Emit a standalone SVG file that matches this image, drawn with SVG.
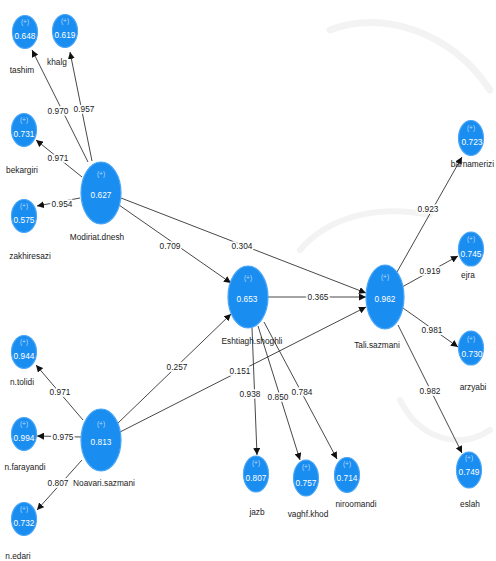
<svg xmlns="http://www.w3.org/2000/svg" width="496" height="561" viewBox="0 0 496 561">
<style>
.n{fill:#1a8df0;stroke:#4aa6f7;stroke-width:1.2}
.p{font-family:"Liberation Sans",Arial,sans-serif;font-size:6.5px;fill:#b9dcff;text-anchor:middle}
.v{font-family:"Liberation Sans",Arial,sans-serif;font-size:8.3px;fill:#ffffff;text-anchor:middle}
.l{font-family:"Liberation Sans",Arial,sans-serif;font-size:8.3px;fill:#222;text-anchor:middle}
.le{font-family:"Liberation Sans",Arial,sans-serif;font-size:8.3px;fill:#222;text-anchor:end}
.e{stroke:#333;stroke-width:0.9;fill:none;marker-end:url(#ah)}
.w{font-family:"Liberation Sans",Arial,sans-serif;font-size:8.3px;fill:#222;text-anchor:middle;stroke:#fff;stroke-width:3.5;paint-order:stroke;stroke-linejoin:round}
.wm{fill:none;stroke:#f3f3f3;stroke-linecap:round}
</style>
<defs>
<marker id="ah" viewBox="0 0 10 10" refX="10" refY="5" markerWidth="7" markerHeight="7" markerUnits="userSpaceOnUse" orient="auto">
<path d="M0,0 L10,5 L0,10 z" fill="#111"/>
</marker>
</defs>
<rect width="496" height="561" fill="#ffffff"/>
<g id="watermark">
<path class="wm" stroke-width="7" d="M330,30 C380,10 450,30 490,90"/>
<path class="wm" stroke-width="6" d="M300,250 C330,215 380,205 430,215"/>
<path class="wm" stroke-width="6" d="M400,400 C420,440 460,450 490,430"/>
</g>
<g id="connectors">
<line class="e" x1="88" y1="162" x2="32" y2="50"/>
<line class="e" x1="92" y1="161" x2="70" y2="52"/>
<line class="e" x1="82" y1="177" x2="36" y2="140"/>
<line class="e" x1="80" y1="198" x2="37" y2="206"/>
<line class="e" x1="119" y1="205" x2="231" y2="283"/>
<line class="e" x1="121" y1="198" x2="366" y2="293"/>
<line class="e" x1="268" y1="297" x2="366" y2="297"/>
<line class="e" x1="117" y1="424" x2="231" y2="314"/>
<line class="e" x1="120" y1="432" x2="366" y2="307"/>
<line class="e" x1="83" y1="420" x2="36" y2="365"/>
<line class="e" x1="81" y1="437" x2="37" y2="436"/>
<line class="e" x1="82" y1="460" x2="37" y2="510"/>
<line class="e" x1="252" y1="328" x2="257" y2="455"/>
<line class="e" x1="258" y1="326" x2="300" y2="460"/>
<line class="e" x1="264" y1="322" x2="337" y2="459"/>
<line class="e" x1="397" y1="272" x2="462" y2="157"/>
<line class="e" x1="402" y1="287" x2="458" y2="256"/>
<line class="e" x1="403" y1="308" x2="458" y2="347"/>
<line class="e" x1="398" y1="325" x2="462" y2="453"/>
<text class="w" x="58" y="114">0.970</text>
<text class="w" x="84" y="112">0.957</text>
<text class="w" x="58" y="161">0.971</text>
<text class="w" x="62" y="207">0.954</text>
<text class="w" x="170" y="249">0.709</text>
<text class="w" x="242" y="249">0.304</text>
<text class="w" x="318" y="300">0.365</text>
<text class="w" x="177" y="370">0.257</text>
<text class="w" x="240" y="374">0.151</text>
<text class="w" x="60" y="395">0.971</text>
<text class="w" x="63" y="440">0.975</text>
<text class="w" x="58" y="486">0.807</text>
<text class="w" x="250" y="397">0.938</text>
<text class="w" x="278" y="400">0.850</text>
<text class="w" x="302" y="395">0.784</text>
<text class="w" x="428" y="212">0.923</text>
<text class="w" x="430" y="274">0.919</text>
<text class="w" x="432" y="333">0.981</text>
<text class="w" x="430" y="394">0.982</text>
</g>
<g id="Modiriat.dnesh"><ellipse class="n" cx="101" cy="193" rx="20" ry="31"/><text class="p" x="101" y="176">(+)</text><text class="v" x="101" y="198">0.627</text><text class="l" x="97" y="240">Modiriat.dnesh</text></g>
<g id="Eshtiagh.shoghli"><ellipse class="n" cx="248" cy="297" rx="20" ry="31"/><text class="p" x="248" y="280">(+)</text><text class="v" x="247" y="302">0.653</text><text class="l" x="252" y="344">Eshtiagh.shoghli</text></g>
<g id="Tali.sazmani"><ellipse class="n" cx="385" cy="297" rx="19" ry="32"/><text class="p" x="385" y="279">(+)</text><text class="v" x="385" y="302">0.962</text><text class="l" x="377" y="348">Tali.sazmani</text></g>
<g id="Noavari.sazmani"><ellipse class="n" cx="101" cy="440" rx="20" ry="31"/><text class="p" x="101" y="426">(+)</text><text class="v" x="101" y="445">0.813</text><text class="l" x="104" y="486">Noavari.sazmani</text></g>
<g id="tashim"><ellipse class="n" cx="25" cy="32" rx="12.5" ry="16.5"/><text class="p" x="25" y="24">(+)</text><text class="v" x="25" y="39">0.648</text><text class="l" x="22" y="73">tashim</text></g>
<g id="khalg"><ellipse class="n" cx="65" cy="31" rx="12.5" ry="16.5"/><text class="p" x="65" y="23">(+)</text><text class="v" x="65" y="38">0.619</text><text class="l" x="57" y="65">khalg</text></g>
<g id="bekargiri"><ellipse class="n" cx="24" cy="130" rx="12.5" ry="16.5"/><text class="p" x="24" y="122">(+)</text><text class="v" x="24" y="137">0.731</text><text class="l" x="22" y="173">bekargiri</text></g>
<g id="zakhiresazi"><ellipse class="n" cx="24" cy="216" rx="12.5" ry="16.5"/><text class="p" x="24" y="208">(+)</text><text class="v" x="24" y="223">0.575</text><text class="l" x="30" y="259">zakhiresazi</text></g>
<g id="n.tolidi"><ellipse class="n" cx="24" cy="352" rx="12.5" ry="16.5"/><text class="p" x="24" y="344">(+)</text><text class="v" x="24" y="359">0.944</text><text class="l" x="22" y="385">n.tolidi</text></g>
<g id="n.farayandi"><ellipse class="n" cx="24" cy="434" rx="12.5" ry="16.5"/><text class="p" x="24" y="426">(+)</text><text class="v" x="24" y="441">0.994</text><text class="l" x="25" y="470">n.farayandi</text></g>
<g id="n.edari"><ellipse class="n" cx="24" cy="519" rx="12.5" ry="16.5"/><text class="p" x="24" y="511">(+)</text><text class="v" x="24" y="526">0.732</text><text class="l" x="18" y="559">n.edari</text></g>
<g id="jazb"><ellipse class="n" cx="256" cy="474" rx="12.5" ry="18"/><text class="p" x="256" y="465">(+)</text><text class="v" x="256" y="481">0.807</text><text class="l" x="257" y="515">jazb</text></g>
<g id="vaghf.khod"><ellipse class="n" cx="306" cy="478" rx="12.5" ry="18"/><text class="p" x="306" y="469">(+)</text><text class="v" x="306" y="486">0.757</text><text class="l" x="308" y="517">vaghf.khod</text></g>
<g id="niroomandi"><ellipse class="n" cx="347" cy="475" rx="12.5" ry="17.5"/><text class="p" x="347" y="466">(+)</text><text class="v" x="347" y="481">0.714</text><text class="l" x="356" y="507">niroomandi</text></g>
<g id="barnamerizi"><ellipse class="n" cx="471" cy="138" rx="12.5" ry="17.5"/><text class="p" x="471" y="130">(+)</text><text class="v" x="472" y="145">0.723</text><text class="le" x="494" y="167">barnamerizi</text></g>
<g id="ejra"><ellipse class="n" cx="471" cy="249" rx="12.5" ry="17"/><text class="p" x="471" y="241">(+)</text><text class="v" x="471" y="257">0.745</text><text class="l" x="468" y="278">ejra</text></g>
<g id="arzyabi"><ellipse class="n" cx="471" cy="348" rx="12.5" ry="17"/><text class="p" x="471" y="341">(+)</text><text class="v" x="472" y="357">0.730</text><text class="l" x="473" y="390">arzyabi</text></g>
<g id="eslah"><ellipse class="n" cx="469" cy="470" rx="12.5" ry="18"/><text class="p" x="469" y="460">(+)</text><text class="v" x="469" y="475">0.749</text><text class="l" x="470" y="507">eslah</text></g>
</svg>
